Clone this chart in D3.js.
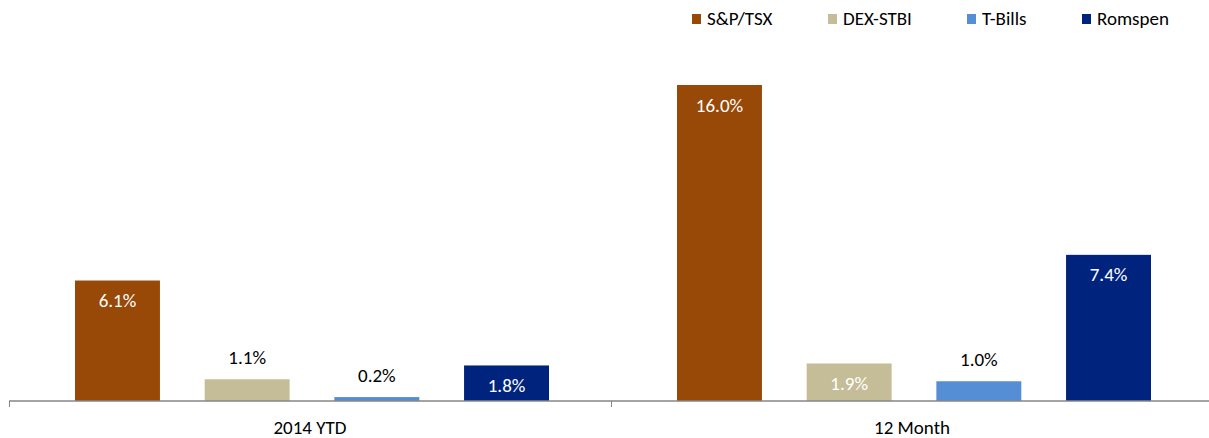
<!DOCTYPE html>
<html>
<head>
<meta charset="utf-8">
<script src="https://cdn.jsdelivr.net/npm/d3@7"></script>
<style>
  body { margin: 0; background: #fff; }
  svg text { font-family: Carlito, Calibri, "Open Sans", sans-serif; }
</style>
</head>
<body>
<script>
var width = 1209,
    height = 438;

var categories = ['2014 YTD', '12 Month'];
var seriesNames = ['S&P/TSX', 'DEX-STBI', 'T-Bills', 'Romspen'];
var seriesColors = ['#984807', '#c4bd97', '#558ed5', '#00247d'];
var spTsx = [6.1, 16.0];
var dexStbi = [1.1, 1.9];
var tBills = [0.2, 1.0];
var romspen = [1.8, 7.4];

var seriesValues = [spTsx, dexStbi, tBills, romspen];

var margin = { top: 85, left: 9, right: -4, bottom: 37 };
var fontSize = '19px';

var svg = d3.select('body')
      .append('svg')
      .attr('width', width)
      .attr('height', height);

var baseY = height - margin.bottom;

var x0 = d3.scaleBand()
    .domain(categories)
    .range([margin.left, width - margin.right]);

// bars sit between 66px and 540px of each category slot
var x1 = d3.scaleBand()
    .domain(seriesNames)
    .range([66, 540])
    .paddingInner(0.345);

var y = d3.scaleLinear()
    .domain([0, 16])
    .range([baseY, margin.top]);

// flatten into bar records
var bars = [];
categories.forEach(function(c, ci) {
  seriesNames.forEach(function(s, si) {
    bars.push({ cat: c, series: s, idx: si, value: seriesValues[si][ci] });
  });
});

svg.selectAll('rect.bar')
  .data(bars)
  .enter()
  .append('rect')
  .attr('class', 'bar')
  .attr('x', function(d) { return x0(d.cat) + x1(d.series); })
  .attr('y', function(d) { return y(d.value); })
  .attr('width', x1.bandwidth())
  .attr('height', function(d) { return baseY - y(d.value); })
  .style('fill', function(d) { return seriesColors[d.idx]; });

// labels: inside the bar when there is room, above it otherwise
svg.selectAll('text.val')
  .data(bars)
  .enter()
  .append('text')
  .attr('class', 'val')
  .attr('x', function(d) { return x0(d.cat) + x1(d.series) + x1.bandwidth() / 2; })
  .attr('y', function(d) {
    return d.value >= 1.5 ? y(d.value) + 22 : y(d.value) - 20;
  })
  .attr('text-anchor', 'middle')
  .attr('dominant-baseline', 'middle')
  .style('font-size', fontSize)
  .style('fill', function(d) { return d.value >= 1.5 ? '#ffffff' : '#000000'; })
  .text(function(d) { return d.value.toFixed(1) + '%'; });

// x axis
var xAxis = d3.axisBottom(x0)
    .tickSize(0)
    .tickPadding(20);

var axisG = svg.append('g')
    .attr('transform', 'translate(0,' + baseY + ')')
    .call(xAxis);

axisG.select('.domain')
  .attr('stroke', '#868686')
  .attr('stroke-width', 1.5)
  .attr('d', 'M' + margin.left + ',0H' + (width - margin.right));

axisG.selectAll('.tick text')
  .style('font-size', fontSize)
  .style('fill', '#000');

// category separators
var sepX = categories.map(function(c) { return x0(c); });
sepX.push(x0(categories[categories.length - 1]) + x0.bandwidth());
axisG.selectAll('line.sep')
  .data(sepX)
  .enter()
  .append('line')
  .attr('class', 'sep')
  .attr('x1', function(d) { return Math.round(d) + 0.5; })
  .attr('x2', function(d) { return Math.round(d) + 0.5; })
  .attr('y1', 0)
  .attr('y2', 6)
  .attr('stroke', '#868686')
  .attr('stroke-width', 1);

// legend
var legendX = [692, 828, 967, 1082];
var legend = svg.selectAll('g.legend')
  .data(seriesNames)
  .enter()
  .append('g')
  .attr('class', 'legend')
  .attr('transform', function(d, i) { return 'translate(' + legendX[i] + ',14)'; });

legend.append('rect')
  .attr('width', 9)
  .attr('height', 10)
  .style('fill', function(d, i) { return seriesColors[i]; });

legend.append('text')
  .attr('x', 15)
  .attr('y', 11)
  .style('font-size', fontSize)
  .style('fill', '#000')
  .text(function(d) { return d; });
</script>
</body>
</html>
